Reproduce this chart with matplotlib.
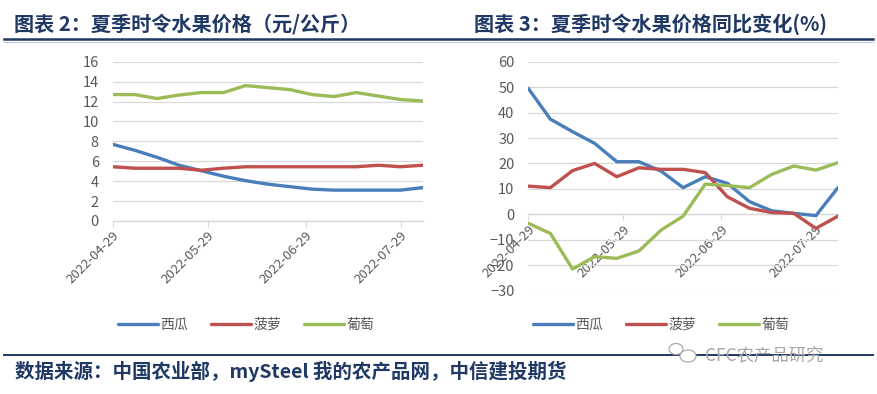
import matplotlib
matplotlib.use("Agg")
import matplotlib.pyplot as plt
import matplotlib.dates as mdates
from matplotlib.patches import Ellipse
import pandas as pd

plt.rcParams["font.family"] = ["Noto Sans CJK SC", "DejaVu Sans"]

# ---- data (weekly) ----
dates = pd.date_range("2022-04-29", periods=15, freq="7D")
tick_dates = pd.to_datetime(["2022-04-29", "2022-05-29", "2022-06-29", "2022-07-29"])
series_names = ["西瓜", "菠萝", "葡萄"]

price_watermelon = [7.7, 7.1, 6.4, 5.6, 5.05, 4.5, 4.05, 3.7, 3.45, 3.2, 3.1, 3.1, 3.1, 3.1, 3.35]
price_pineapple = [5.45, 5.3, 5.3, 5.3, 5.1, 5.3, 5.45, 5.45, 5.45, 5.45, 5.45, 5.45, 5.6, 5.45, 5.6]
price_grape = [12.7, 12.7, 12.3, 12.65, 12.9, 12.9, 13.6, 13.4, 13.2, 12.7, 12.5, 12.9, 12.55, 12.2, 12.05]

yoy_watermelon = [49.5, 37.4, 32.5, 27.9, 20.7, 20.7, 17.0, 10.5, 14.8, 12.2, 5.0, 1.4, 0.4, -0.5, 10.5]
yoy_pineapple = [11.1, 10.5, 17.2, 20.0, 14.8, 18.3, 17.7, 17.7, 16.4, 6.9, 2.4, 0.7, 0.4, -5.5, -0.7]
yoy_grape = [-3.5, -7.5, -21.5, -16.6, -17.3, -14.4, -6.2, -0.7, 11.9, 11.3, 10.5, 15.7, 19.0, 17.4, 20.3]

COLORS = ["#4a7ebb", "#c0504d", "#9bbb59"]
TICK = "#595959"
GRID = "#d9d9d9"
NAVY = "#1f3864"

W, H = 877, 394
fig = plt.figure(figsize=(W / 100, H / 100), dpi=100)
fig.patch.set_facecolor("white")


def px_axes(x0, y0, x1, y1):
    # pixel box (top-left origin) -> figure axes
    return fig.add_axes([x0 / W, 1 - y1 / H, (x1 - x0) / W, (y1 - y0) / H])


def style(ax, yticks, zero_axis=False):
    ax.set_xlim(dates[0], dates[-1])
    ax.set_ylim(yticks[0], yticks[-1])
    ax.set_yticks(yticks)
    ax.grid(axis="y", color=GRID, lw=0.9)
    ax.set_axisbelow(True)
    for s in ["top", "right", "left"]:
        ax.spines[s].set_visible(False)
    if zero_axis:
        ax.spines["bottom"].set_position(("data", 0))
    ax.spines["bottom"].set_color(GRID)
    ax.spines["bottom"].set_linewidth(1.0)
    ax.set_xticks(tick_dates)
    ax.xaxis.set_major_formatter(mdates.DateFormatter("%Y-%m-%d"))
    ax.tick_params(axis="y", length=0, pad=10, labelsize=10.5, labelcolor=TICK)
    ax.tick_params(axis="x", length=4, color=GRID, pad=2, labelsize=9.5, labelcolor=TICK,
                   labelrotation=45)
    plt.setp(ax.get_xticklabels(), ha="right", va="top", rotation_mode="anchor")


def legend(ax, cx):
    leg = ax.legend(series_names, loc="center", bbox_to_anchor=(cx / W, 1 - 325 / H),
                    bbox_transform=fig.transFigure, ncol=3, frameon=False,
                    fontsize=10, handlelength=2.9, handletextpad=0.2, columnspacing=1.6)
    for t in leg.get_texts():
        t.set_color(TICK)


# ---- left chart: prices ----
ax1 = px_axes(112.7, 61.7, 422.7, 221)
for vals, c in zip([price_watermelon, price_pineapple, price_grape], COLORS):
    ax1.plot(dates, vals, color=c, lw=2.4, solid_capstyle="round", zorder=3)
style(ax1, list(range(0, 17, 2)))
legend(ax1, 246)

# ---- right chart: YoY change ----
ax2 = px_axes(528.3, 61.7, 838, 290.7)
for vals, c in zip([yoy_watermelon, yoy_pineapple, yoy_grape], COLORS):
    ax2.plot(dates, vals, color=c, lw=2.4, solid_capstyle="round", zorder=3)
style(ax2, list(range(-30, 61, 10)), zero_axis=True)
legend(ax2, 661)

# ---- frame: titles, rules, source, watermark ----
ov = fig.add_axes([0, 0, 1, 1], zorder=-1)
ov.set_xlim(0, W)
ov.set_ylim(H, 0)
ov.axis("off")

ov.text(14, 24, "图表 2：夏季时令水果价格（元/公斤）", fontsize=14.5, weight="bold",
        color=NAVY, va="center", ha="left")
ov.text(474, 24, "图表 3：夏季时令水果价格同比变化(%)", fontsize=14.5, weight="bold",
        color=NAVY, va="center", ha="left")
ov.plot([4, 873], [39, 39], color=NAVY, lw=1.8)
ov.plot([4, 873], [42, 42], color="#b4c6e7", lw=0.7)

ov.plot([4, 873], [355, 355], color=NAVY, lw=1.4)
ov.text(15, 371, "数据来源：中国农业部，mySteel 我的农产品网，中信建投期货", fontsize=14,
        weight="bold", color=NAVY, va="center", ha="left")

# watermark
ov.add_patch(Ellipse((676, 349), 14, 11, fill=True, fc="white", ec="#aaaaaa", lw=0.9, zorder=3))
ov.add_patch(Ellipse((688, 356), 16, 12, fill=True, fc="white", ec="#aaaaaa", lw=0.9, zorder=4))
ov.text(705, 355, "CFC农产品研究", fontsize=12.5, color="#a6a6a6", va="center", ha="left", zorder=5)

fig.savefig("out.png", dpi=100, facecolor="white")
